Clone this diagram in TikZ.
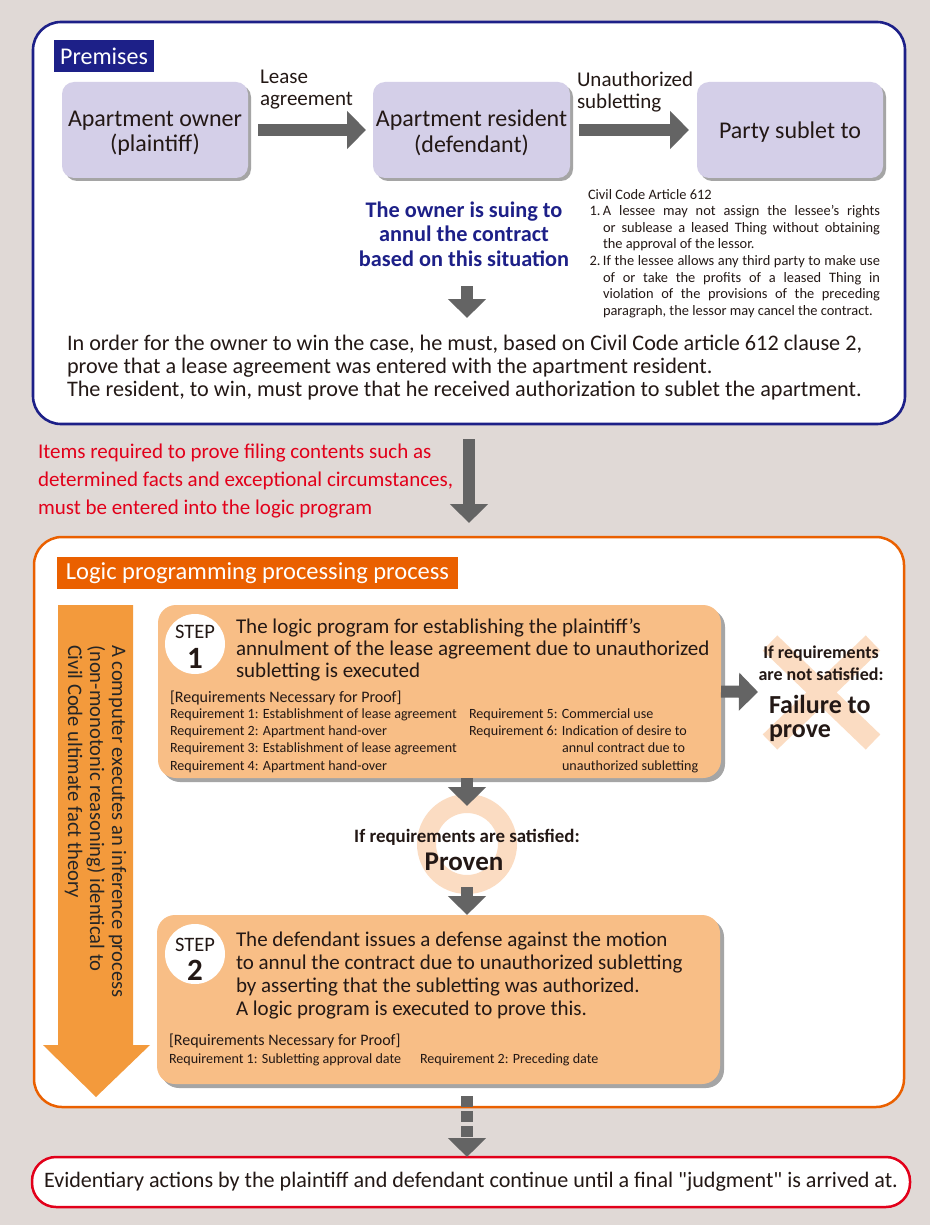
\documentclass[tikz,border=0pt]{standalone}
\usepackage{fontspec}
\setmainfont{Carlito}
\newfontfamily\qfont{Carlito}[Ligatures=TeXOff]
\usetikzlibrary{arrows.meta,shadows,calc}
\definecolor{bg}{RGB}{224,217,214}
\definecolor{navy}{RGB}{29,32,136}
\definecolor{lav}{RGB}{212,207,232}
\definecolor{agray}{RGB}{100,100,100}
\definecolor{ored}{RGB}{234,96,0}
\definecolor{oarrow}{RGB}{243,154,60}
\definecolor{peach}{RGB}{248,190,134}
\definecolor{lpeach}{RGB}{251,220,194}
\definecolor{rred}{RGB}{226,0,26}
\definecolor{txt}{RGB}{35,24,21}
\newcommand{\fs}[2]{\fontsize{#1}{#2}\selectfont}
\newcommand{\sq}{{\qfont\char34}}
\begin{document}
\begin{tikzpicture}[x=1pt,y=-1pt,
  every node/.style={inner sep=0pt,outer sep=0pt,text=txt},
  lavbox/.style={fill=lav,rounded corners=12pt,minimum height=96pt,
    drop shadow={shadow xshift=3pt,shadow yshift=-3pt,opacity=0.5,fill=black!70}},
  lavtext/.style={align=center,font=\fs{24}{25.5}},
  stepbox/.style={fill=peach,rounded corners=18pt,minimum width=563pt,
    drop shadow={shadow xshift=4pt,shadow yshift=-4pt,opacity=0.5,fill=black!70}},
  garrow/.style={draw=agray,line width=12pt,-{Triangle[width=37pt,length=19pt]}},
  txtl/.style={anchor=north west,align=left},
  req/.style={anchor=base west,font=\fs{14.1}{16}},
  stepcirc/.style={circle,fill=white,minimum size=60pt},
]
\fill[bg] (0,0) rectangle (930,1225);
\useasboundingbox (0,0) rectangle (930,1225);

% ---------- frames ----------
\node[draw=navy,line width=2.6pt,fill=white,rounded corners=28pt,minimum width=872pt,minimum height=402pt] (topbox) at (469,223) {};
\node[draw=ored,line width=2.5pt,fill=white,rounded corners=28pt,minimum width=870pt,minimum height=570pt] (logicbox) at (469,822) {};
\node[draw=rred,line width=2.5pt,fill=white,rounded corners=24pt,minimum width=878pt,minimum height=50pt,font=\fs{22.1}{24}] (bottom) at (471,1182)
  {Evidentiary actions by the plaintiff and defendant continue until a final \sq judgment\sq{} is arrived at.};

% ---------- premises ----------
\node[fill=navy,minimum width=100pt,minimum height=32pt,text=white,font=\fs{24}{26}] (prem) at (104,56) {Premises};

\node[lavbox,minimum width=186pt] (owner) at (155,130) {};
\node[lavbox,minimum width=197pt] (resident) at (471.5,130) {};
\node[lavbox,minimum width=186pt] (party) at (790,130) {};
\node[lavtext] (ownert) at (155,133) {Apartment owner\\(plaintiff)};
\node[lavtext] (residentt) at (471.5,133) {Apartment resident\\(defendant)};
\node[lavtext] (partyt) at (790,132) {Party sublet to};

\draw[garrow,shorten <=10pt,shorten >=7pt] (owner.east) -- (resident.west);
\draw[garrow,shorten <=9pt,shorten >=8pt] (resident.east) -- (party.west);

\node[txtl,font=\fs{21}{22}] (lease) at (260,68.6) {\strut Lease\\agreement};
\node[txtl,font=\fs{21}{22}] (unauth) at (577,71.6) {\strut Unauthorized\\subletting};

\node[anchor=north west,text width=292pt,align=justify,font=\fs{14.4}{16.6}] (civil) at (588,187.4) {%
\noindent\strut Civil Code Article 612\par
\noindent\hangindent=15pt\hangafter=1 \makebox[15pt][r]{1.\,}A lessee may not assign the lessee's rights\linebreak or sublease a leased Thing without obtaining\linebreak the approval of the lessor.\par
\noindent\hangindent=15pt\hangafter=1 \makebox[15pt][r]{2.\,}If the lessee allows any third party to make use\linebreak of or take the profits of a leased Thing in\linebreak violation of the provisions of the preceding\linebreak paragraph, the lessor may cancel the contract.\par};

\node[anchor=north,align=center,text=navy,font=\bfseries\fs{22.3}{24.5}] (suing) at (464,200.3)
  {\strut The owner is suing to\\annul the contract\\based on this situation};
\coordinate (d0) at (467,286);
\coordinate (d1) at (467,318);
\draw[garrow] (d0) -- (d1);

\node[txtl,font=\fs{22.2}{23}] (para) at (67,333.9)
  {\strut In order for the owner to win the case, he must, based on Civil Code article 612 clause 2,\\prove that a lease agreement was entered with the apartment resident.\\The resident, to win, must prove that he received authorization to sublet the apartment.};

% ---------- between ----------
\node[txtl,text=rred,font=\fs{21}{28}] (items) at (38,438.4)
  {\strut Items required to prove filing contents such as\\determined facts and exceptional circumstances,\\must be entered into the logic program};
\draw[garrow,shorten <=15pt,shorten >=14pt] (topbox.south) -- (logicbox.north);

% ---------- logic programming ----------
\node[fill=ored,text=white,minimum width=401pt,minimum height=32pt,font=\fs{24.5}{26}] (logiclab) at (257.5,573) {Logic programming processing process};

\fill[oarrow] (58,605) -- (133,605) -- (133,1045) -- (150,1045) -- (96,1097) -- (43,1045) -- (58,1045) -- cycle;
\node[anchor=north west,rotate=-90,align=left,font=\fs{20.6}{22},text=black!85] (vtext) at (127.5,645)
  {\strut A computer executes an inference process\\(non-monotonic reasoning) identical to\\Civil Code ultimate fact theory};

% step 1
\node[stepbox,minimum height=173pt] (step1) at (439.5,691.5) {};
\node[stepcirc] (c1) at (195,644) {};
\node[anchor=base,font=\fs{20.5}{22}] (s1lab) at (195,638) {STEP};
\node[anchor=base,font=\bfseries\fs{31}{33}] (s1num) at (195,668) {1};
\node[txtl,font=\fs{21}{22}] (t1) at (236,617.6)
  {\strut The logic program for establishing the plaintiff's\\annulment of the lease agreement due to unauthorized\\subletting is executed};
\node[anchor=base west,font=\fs{16}{18}] (rh1) at (170,702) {[Requirements Necessary for Proof]};
\node[req] (r1) at (170,718) {Requirement 1: Establishment of lease agreement};
\node[req] (r2) at (170,735.3) {Requirement 2: Apartment hand-over};
\node[req] (r3) at (170,752.6) {Requirement 3: Establishment of lease agreement};
\node[req] (r4) at (170,770) {Requirement 4: Apartment hand-over};
\node[req] (r5) at (469,718) {Requirement 5: Commercial use};
\node[req] (r6) at (469,735.3) {Requirement 6: Indication of desire to};
\node[req] (r6b) at (562,752.6) {annul contract due to};
\node[req] (r6c) at (562,770) {unauthorized subletting};

% failure
\draw[lpeach,line width=21pt] (770,643) -- (873,742) (873,643) -- (770,742);
\coordinate (fa) at (758,692);
\draw[garrow] (step1.east) -- (fa);
\node[anchor=north,align=center,font=\bfseries\fs{18}{22}] (ifnot) at (821,642.6) {\strut If requirements\\are not satisfied:};
\node[anchor=base west,font=\bfseries\fs{26}{26}] (fail1) at (769,713) {Failure to};
\node[anchor=base west,font=\bfseries\fs{26}{26}] (fail2) at (769,737) {prove};

% proven
\node[circle,draw=lpeach,line width=19pt,minimum size=81pt] (ring) at (467,844) {};
\node[anchor=base,font=\bfseries\fs{18.9}{20}] (sat) at (467,842) {If requirements are satisfied:};
\node[anchor=base,font=\bfseries\fs{27}{29}] (proven) at (464,870) {Proven};
\coordinate (a1) at (467,806);
\draw[garrow] (step1.south -| a1) -- (a1);

% step 2
\node[stepbox,minimum height=169pt] (step2) at (438.5,999.5) {};
\coordinate (a2) at (467,887);
\draw[garrow] (a2) -- (step2.north -| a2);
\node[stepcirc] (c2) at (195,954) {};
\node[anchor=base,font=\fs{20.5}{22}] (s2lab) at (195,951) {STEP};
\node[anchor=base,font=\bfseries\fs{31}{33}] (s2num) at (195,980) {2};
\node[txtl,font=\fs{21}{23}] (t2) at (236,929.9)
  {\strut The defendant issues a defense against the motion\\to annul the contract due to unauthorized subletting\\by asserting that the subletting was authorized.\\A logic program is executed to prove this.};
\node[anchor=base west,font=\fs{16}{18}] (rh2) at (169,1045) {[Requirements Necessary for Proof]};
\node[req] (q1) at (169,1063) {Requirement 1: Subletting approval date};
\node[req] (q2) at (420,1063) {Requirement 2: Preceding date};

% to bottom
\coordinate (b0) at (467,1096);
\draw[garrow,dash pattern=on 11pt off 4pt] (b0) -- (bottom.north -| b0);
\end{tikzpicture}
\end{document}
